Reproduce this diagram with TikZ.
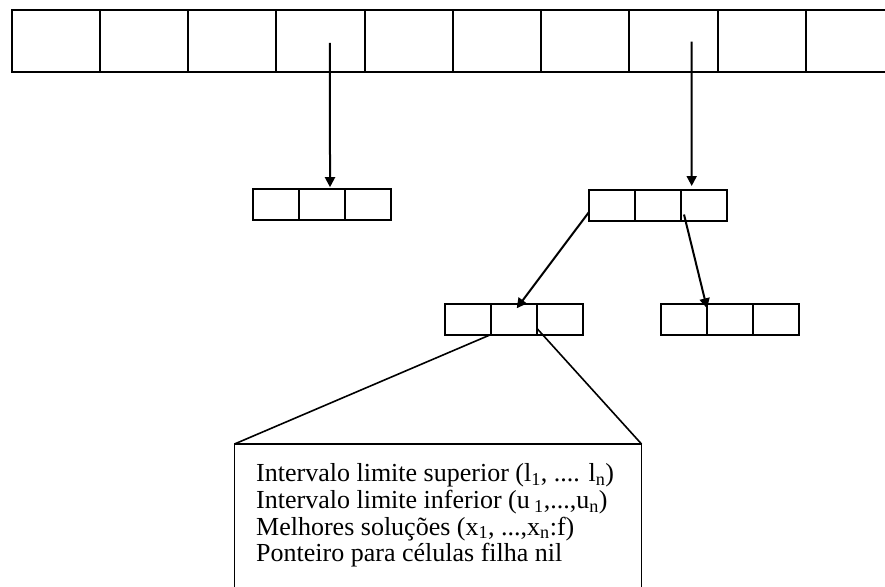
\documentclass[tikz,border=0pt]{standalone}
\usepackage{fontspec}
\setmainfont{Liberation Serif}
\usetikzlibrary{arrows.meta}
\begin{document}
\begin{tikzpicture}[x=1pt,y=-1pt,
  bigcell/.style={draw, line width=2pt, minimum width=88.25pt, minimum height=61.5pt,
    inner sep=0pt, outer sep=0pt, anchor=north west},
  cell/.style={draw, line width=2pt, minimum width=46pt, minimum height=30.5pt,
    inner sep=0pt, outer sep=0pt, anchor=north west},
  ptr/.style={line width=2pt, -{Triangle[length=10pt,width=10pt]}},
  link/.style={line width=1.6pt},
  infobox/.style={draw, line width=1.5pt, minimum width=407pt, minimum height=170pt,
    inner sep=0pt, outer sep=0pt, anchor=north west},
  infotext/.style={anchor=base west, inner sep=0pt,
    font=\fontsize{26pt}{28pt}\selectfont}]
\useasboundingbox (0,0) rectangle (885,586);

% hash table of ten buckets (the last one runs past the right edge)
\foreach \i in {0,...,9}
  \node[bigcell] (t\i) at ({11.5+88.25*\i},10) {};

% cells of three slots each
\foreach \i in {0,1,2} {
  \node[cell] (a\i) at ({253+46*\i},189) {};
  \node[cell] (b\i) at ({589+46*\i},190) {};
  \node[cell] (c\i) at ({445+46*\i},304) {};
  \node[cell] (d\i) at ({661+46*\i},304) {};
}

% pointers
\draw[ptr] ([xshift=9.6pt,yshift=-2.25pt]t3.center) -- ([xshift=8pt,yshift=1.8pt]a1.north);
\draw[ptr] ([xshift=18.3pt,yshift=-1pt]t7.center) -- ([xshift=-12.3pt,yshift=4pt]b2.north);
\draw[ptr] ([yshift=8.5pt]b0.south west) -- ([xshift=2.7pt,yshift=-4.3pt]c1.north);
\draw[ptr] ([xshift=3pt,yshift=6pt]b2.south west) -- ([yshift=-4.3pt]d1.north west);

% contents of one cell
\node[infobox] (info) at (234.5,444) {};
\draw[link] (c1.south west) -- (info.north west);
\draw[link] ([yshift=6pt]c2.south west) -- (info.north east);

\node[infotext] (txt1) at (256,481.7)
  {Intervalo limite superior (l\textsubscript{1}, .... l\textsubscript{n})};
\node[infotext] (txt2) at (256,508.3)
  {Intervalo limite inferior (u\,\textsubscript{1},...,u\textsubscript{n})};
\node[infotext] (txt3) at (256,535)
  {Melhores soluções (x\textsubscript{1}, ...,x\textsubscript{n}:f)};
\node[infotext] (txt4) at (256,561.6)
  {Ponteiro para células filha nil};
\end{tikzpicture}
\end{document}
